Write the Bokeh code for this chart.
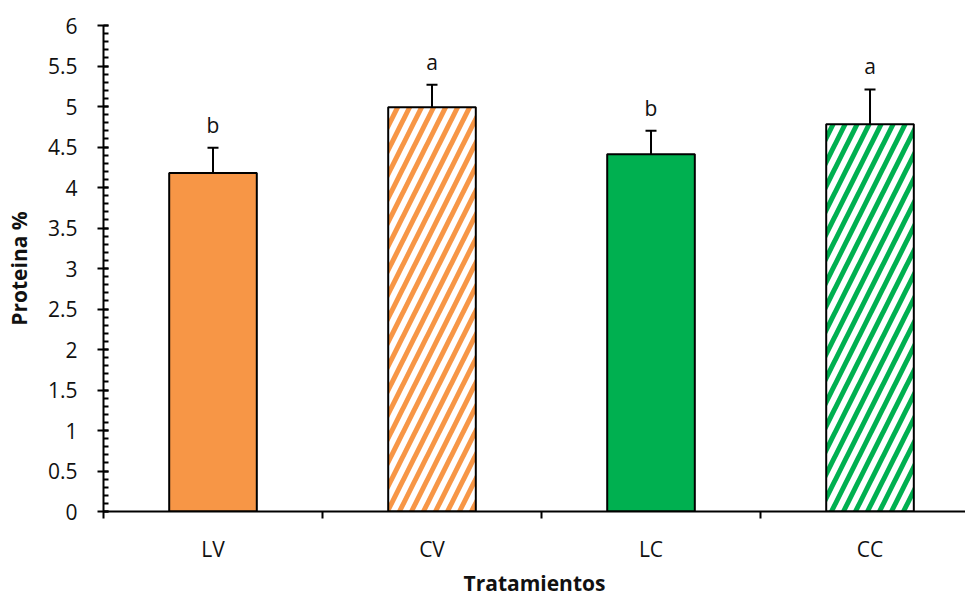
from bokeh.plotting import figure
from bokeh.models import ColumnDataSource, Range1d, FixedTicker, SingleIntervalTicker, Whisker, TeeHead, LabelSet
from bokeh.core.properties import value
from bokeh.embed import file_html
from bokeh.resources import INLINE

categories = ["LV", "CV", "LC", "CC"]
values = [4.18, 4.99, 4.41, 4.78]
errors = [0.31, 0.28, 0.29, 0.43]
letters = ["b", "a", "b", "a"]
colors = ["#F79646", "#F79646", "#00B050", "#00B050"]
hatched = [False, True, False, True]

xs = [i + 0.5 for i in range(len(categories))]
src = ColumnDataSource(dict(
    x=xs, top=values, upper=[v + e for v, e in zip(values, errors)],
    letter=letters,
    fillc=[("white" if h else c) for c, h in zip(colors, hatched)],
    hcolor=colors,
    hpat=[("/" if h else " ") for h in hatched],
))

p = figure(width=965, height=599, output_backend="svg", toolbar_location=None,
           x_range=Range1d(0, 3.936), y_range=Range1d(0, 6),
           min_border_left=103, min_border_right=0, min_border_top=25, min_border_bottom=88)
p.outline_line_color = None
p.grid.grid_line_color = None
p.background_fill_color = "white"

p.vbar(x="x", top="top", bottom=0, width=0.40, source=src,
       fill_color="fillc", line_color="black", line_width=2,
       hatch_pattern="hpat", hatch_color="hcolor", hatch_scale=24, hatch_weight=5)

w = Whisker(base="x", upper="upper", lower="top", source=src, dimension="height",
            line_color="black", line_width=2,
            upper_head=TeeHead(size=11, line_color="black", line_width=2), lower_head=None)
p.add_layout(w)

FONT = "Open Sans"
TXT = "#111111"
lab = LabelSet(x="x", y="upper", text="letter", source=src, text_align="center",
               text_baseline="bottom", y_offset=9, text_font=value(FONT),
               text_font_size="21px", text_color=TXT)
p.add_layout(lab)

# y axis
yax = p.yaxis[0]
yax.ticker = SingleIntervalTicker(interval=0.5, num_minor_ticks=5)
yax.major_tick_in = 5
yax.major_tick_out = 6
yax.minor_tick_in = 5
yax.minor_tick_out = 0
yax.axis_line_width = 2
yax.major_tick_line_width = 2
yax.minor_tick_line_width = 2
yax.major_label_text_font = FONT
yax.major_label_text_font_size = "21px"
yax.major_label_text_color = TXT
yax.major_label_standoff = 20
yax.axis_label = "Proteina %"
yax.axis_label_text_font = FONT
yax.axis_label_text_font_style = "bold"
yax.axis_label_text_font_size = "21px"
yax.axis_label_text_color = TXT
yax.axis_label_standoff = 12

# x axis
xax = p.xaxis[0]
xax.ticker = FixedTicker(ticks=xs, minor_ticks=[0, 1, 2, 3])
xax.major_label_overrides = {x: c for x, c in zip(xs, categories)}
xax.major_tick_in = 0
xax.major_tick_out = 0
xax.minor_tick_in = 0
xax.minor_tick_out = 7
xax.minor_tick_line_width = 2
xax.axis_line_width = 2
xax.major_label_text_font = FONT
xax.major_label_text_font_size = "21px"
xax.major_label_text_color = TXT
xax.major_label_standoff = 16
xax.axis_label = "Tratamientos"
xax.axis_label_text_font = FONT
xax.axis_label_text_font_style = "bold"
xax.axis_label_text_font_size = "21px"
xax.axis_label_text_color = TXT
xax.axis_label_standoff = 3

open("out.html", "w").write(file_html(p, INLINE))
